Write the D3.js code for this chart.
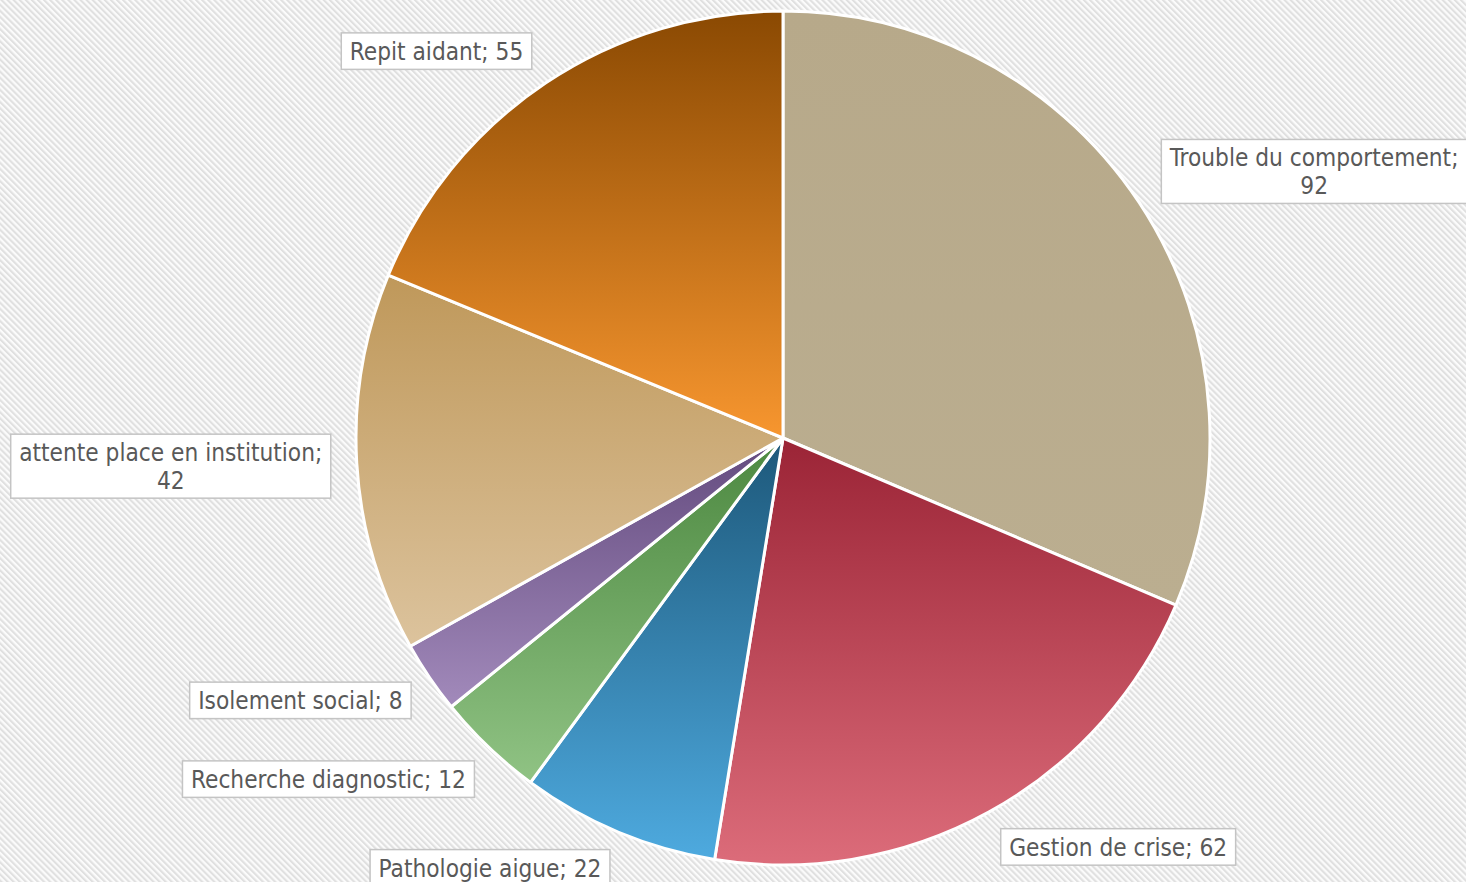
<!DOCTYPE html>
<html>
<head>
<meta charset="utf-8">
<script src="https://cdn.jsdelivr.net/npm/d3@7"></script>
<style>
  html, body { margin: 0; padding: 0; background: #fff; }
  svg { display: block; }
</style>
</head>
<body>
<svg id="chart" width="1466" height="882"></svg>
<script>
// data
const categories = ["Trouble du comportement", "Gestion de crise", "Pathologie aigue",
                    "Recherche diagnostic", "Isolement social",
                    "attente place en institution", "Repit aidant"];
const values = [92, 62, 22, 12, 8, 42, 55];

// colours (top / bottom of each slice's gradient)
const topColors    = ["#b7a98a", "#9b2436", "#1d587a", "#4c8840", "#634a7e", "#bf985a", "#8a4902"];
const bottomColors = ["#bbae90", "#dc6c7a", "#4eaadf", "#90c384", "#a28abb", "#dcc39d", "#f7962f"];

// label offsets from the slice's outer edge point (layout only)
const labelNudge = [[175, -31], [129, 35], [-128, 36], [-160, 32], [-129, 23], [-186, 3], [-109, -32]];

const svg = d3.select("#chart");
const width = +svg.attr("width");
const height = +svg.attr("height");
const cx = 783, cy = 438, radius = 427;

const defs = svg.append("defs");

// hatched background
const pat = defs.append("pattern")
  .attr("id", "hatch")
  .attr("patternUnits", "userSpaceOnUse")
  .attr("width", 4.3)
  .attr("height", 4.3)
  .attr("patternTransform", "rotate(-45)");
pat.append("rect").attr("width", 4.3).attr("height", 4.3).attr("fill", "#fbfbfb");
pat.append("rect").attr("width", 2.1).attr("height", 4.3).attr("fill", "#e0e0e0");

svg.append("rect")
  .attr("width", width)
  .attr("height", height)
  .attr("fill", "url(#hatch)");

// one vertical gradient per slice
categories.forEach(function(c, i) {
  const grad = defs.append("linearGradient")
    .attr("id", "grad" + i)
    .attr("x1", 0).attr("y1", 0)
    .attr("x2", 0).attr("y2", 1);
  grad.append("stop").attr("offset", "0%").attr("stop-color", topColors[i]);
  grad.append("stop").attr("offset", "100%").attr("stop-color", bottomColors[i]);
});

const pie = d3.pie().sort(null).value(function(d) { return d; });
const arcs = pie(values);

const arc = d3.arc().innerRadius(0).outerRadius(radius);
const edgeArc = d3.arc().innerRadius(radius).outerRadius(radius);

const g = svg.append("g")
  .attr("transform", "translate(" + cx + "," + cy + ")");

g.selectAll("path")
  .data(arcs)
  .enter()
  .append("path")
  .attr("d", arc)
  .attr("fill", function(d, i) { return "url(#grad" + i + ")"; })
  .attr("stroke", "#fff")
  .attr("stroke-width", 3)
  .attr("stroke-linejoin", "round");

// data labels
const labels = g.selectAll(".label")
  .data(arcs)
  .enter()
  .append("g")
  .attr("class", "label")
  .attr("transform", function(d, i) {
    const p = edgeArc.centroid(d);
    return "translate(" + (p[0] + labelNudge[i][0]) + "," + (p[1] + labelNudge[i][1]) + ")";
  });

const fontSize = 24.2, lineH = 27.5, padX = 8.5, padY = 5;

labels.each(function(d, i) {
  const lab = d3.select(this);
  const box = lab.append("rect")
    .attr("fill", "#fff")
    .attr("stroke", "#c4c4c4")
    .attr("stroke-width", 1.5);
  const txt = lab.append("text")
    .attr("text-anchor", "middle")
    .style("font-family", "'DejaVu Sans Condensed', 'DejaVu Sans', sans-serif")
    .style("font-stretch", "condensed")
    .style("font-size", fontSize + "px")
    .attr("fill", "#595959");

  let lines = [categories[i] + "; " + values[i]];
  txt.text(lines[0]);
  if (txt.node().getComputedTextLength() > 300) {
    lines = [categories[i] + ";", String(values[i])];
  }
  txt.text(null);
  lines.forEach(function(l, k) {
    txt.append("tspan")
      .attr("x", 0)
      .attr("y", (k - (lines.length - 1) / 2) * lineH)
      .attr("dy", "0.36em")
      .text(l);
  });

  const w = d3.max(txt.selectAll("tspan").nodes(), function(n) { return n.getComputedTextLength(); });
  const h = lines.length * lineH + padY * 2 - 1;
  box.attr("x", -w / 2 - padX)
    .attr("y", -h / 2)
    .attr("width", w + padX * 2)
    .attr("height", h);
});
</script>
</body>
</html>
